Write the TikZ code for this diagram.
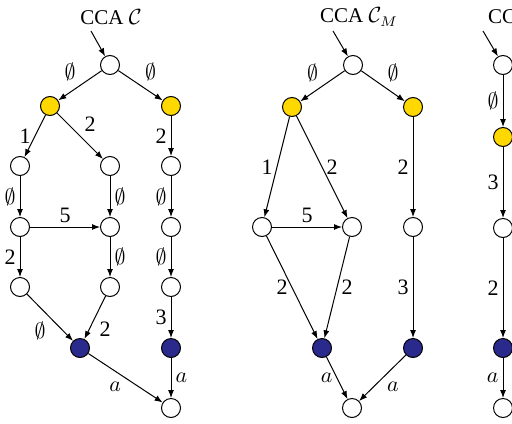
\documentclass[tikz,border=0pt]{standalone}
\usepackage{amsmath,amssymb}
\usepackage{fontspec}
\setmainfont{Liberation Serif}
\usepackage{xcolor}
\usepackage{tikz}
\usetikzlibrary{arrows.meta}
\definecolor{shared}{RGB}{255,216,0}
\definecolor{deep}{RGB}{42,42,140}
\tikzset{
  state/.style={
    circle, draw=black, line width=0.5pt, minimum size=9.5pt,
    inner sep=0pt, fill=white
  },
  split/.style={state, fill=shared},
  accept/.style={state, fill=deep},
  every edge/.style={draw, -{Latex[length=4pt,width=3pt]}, line width=0.5pt},
  lbl/.style={font=\fontsize{11}{12}\selectfont, inner sep=2pt},
  caption/.style={font=\fontsize{10.5}{12}\selectfont},
}

\begin{document}
\begin{tikzpicture}[x=0.5pt, y=-0.5pt]
  \useasboundingbox (0,0) rectangle (512,423);

  % CCA C
  \node[caption] (t1) at (111,17) {CCA $\mathcal{C}$};
  \coordinate (i1) at (91,31);
  \node[state] (r1) at (110,65) {};
  \node[split] (y1a) at (50,106) {};
  \node[split] (y1b) at (171,106) {};
  \node[state] (n1a) at (20,166) {};
  \node[state] (n1b) at (110,166) {};
  \node[state] (n1c) at (171,166) {};
  \node[state] (n1d) at (20,227) {};
  \node[state] (n1e) at (110,227) {};
  \node[state] (n1f) at (171,227) {};
  \node[state] (n1g) at (20,287) {};
  \node[state] (n1h) at (110,287) {};
  \node[state] (n1i) at (171,287) {};
  \node[accept] (b1a) at (80,348) {};
  \node[accept] (b1b) at (171,348) {};
  \node[state] (f1) at (171,408) {};
  \path (i1) edge (r1)
        (r1) edge node[lbl, above left]{$\emptyset$} (y1a)
        (r1) edge node[lbl, above right]{$\emptyset$} (y1b)
        (y1a) edge node[lbl, left]{1} (n1a)
        (y1a) edge node[lbl, above right]{2} (n1b)
        (y1b) edge node[lbl, left]{2} (n1c)
        (n1a) edge node[lbl, left]{$\emptyset$} (n1d)
        (n1b) edge node[lbl, right]{$\emptyset$} (n1e)
        (n1c) edge node[lbl, left]{$\emptyset$} (n1f)
        (n1d) edge node[lbl, above]{5} (n1e)
        (n1d) edge node[lbl, left]{2} (n1g)
        (n1e) edge node[lbl, right]{$\emptyset$} (n1h)
        (n1f) edge node[lbl, left]{$\emptyset$} (n1i)
        (n1g) edge node[lbl, below left]{$\emptyset$} (b1a)
        (n1h) edge node[lbl, below right]{2} (b1a)
        (n1i) edge node[lbl, left]{3} (b1b)
        (b1a) edge node[lbl, below left]{$a$} (f1)
        (b1b) edge node[lbl, right]{$a$} (f1);

  % CCA C_M
  \node[caption] (t2) at (359,17) {CCA $\mathcal{C}_M$};
  \coordinate (i2) at (333,31);
  \node[state] (r2) at (353,65) {};
  \node[split] (y2a) at (292,107) {};
  \node[split] (y2b) at (413,107) {};
  \node[state] (n2a) at (262,227) {};
  \node[state] (n2b) at (352,227) {};
  \node[state] (n2c) at (413,227) {};
  \node[accept] (b2a) at (322,348) {};
  \node[accept] (b2b) at (413,348) {};
  \node[state] (f2) at (352,408) {};
  \path (i2) edge (r2)
        (r2) edge node[lbl, above left]{$\emptyset$} (y2a)
        (r2) edge node[lbl, above right]{$\emptyset$} (y2b)
        (y2a) edge node[lbl, left]{1} (n2a)
        (y2a) edge node[lbl, right]{2} (n2b)
        (y2b) edge node[lbl, left]{2} (n2c)
        (n2a) edge node[lbl, above]{5} (n2b)
        (n2a) edge node[lbl, left]{2} (b2a)
        (n2b) edge node[lbl, right]{2} (b2a)
        (n2c) edge node[lbl, left]{3} (b2b)
        (b2a) edge node[lbl, left]{$a$} (f2)
        (b2b) edge node[lbl, below right]{$a$} (f2);

  % third CCA, cut at the edge
  \node[caption, anchor=west] (t3) at (481,17) {CCA};
  \coordinate (i3) at (483,31);
  \node[state] (r3) at (503,65) {};
  \node[split] (y3) at (503,137) {};
  \node[state] (n3) at (503,228) {};
  \node[accept] (b3) at (503,348) {};
  \node[state] (f3) at (503,408) {};
  \path (i3) edge (r3)
        (r3) edge node[lbl, left]{$\emptyset$} (y3)
        (y3) edge node[lbl, left]{3} (n3)
        (n3) edge node[lbl, left]{2} (b3)
        (b3) edge node[lbl, left]{$a$} (f3);
\end{tikzpicture}
\end{document}
